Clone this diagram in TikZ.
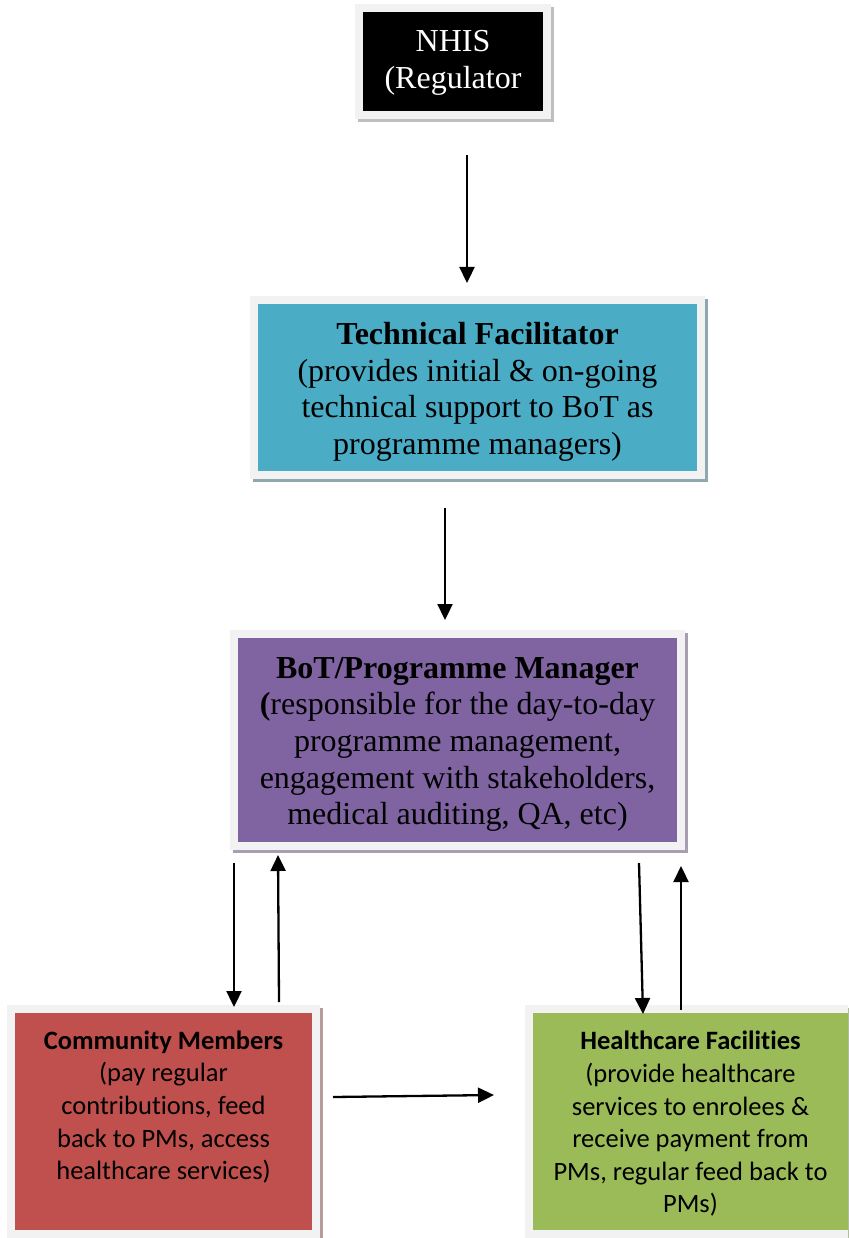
\documentclass[tikz,border=0pt]{standalone}
\usepackage{fontspec}
\setmainfont{Liberation Serif}
\newfontfamily\calib[Ligatures=NoCommon]{Carlito}
\usetikzlibrary{arrows.meta,backgrounds,calc}
\definecolor{framec}{HTML}{F2F2F2}
\definecolor{tfc}{HTML}{4BACC6}
\definecolor{botc}{HTML}{8064A2}
\definecolor{cmc}{HTML}{C0504D}
\definecolor{hfc}{HTML}{9BBB59}
\definecolor{shNH}{HTML}{BEBEBE}
\definecolor{shTF}{HTML}{8FA7AE}
\definecolor{shBOT}{HTML}{A79EB2}
\definecolor{shCM}{HTML}{B89C9B}
\definecolor{shHF}{HTML}{A9B598}
\begin{document}
\begin{tikzpicture}[x=1pt,y=-1pt,
  box/.style={rectangle, draw=framec, line width=8pt, outer sep=0pt, inner sep=0pt},
  serif/.style={font=\fontsize{32}{36.6}\selectfont, align=center, inner sep=0pt},
  sans/.style={font=\calib\fontsize{26.5}{32.6}\selectfont, align=center, inner sep=0pt},
  arr/.style={line width=2.3pt, -{Triangle[width=15pt,length=16pt]}}]
\useasboundingbox (0,0) rectangle (848,1238);
\clip (0,0) rectangle (848,1238);

\node[box, fill=black, minimum width=188pt, minimum height=107pt] (nhis) at (453,61.5) {};
\node[serif, text=white] (nhistext) at ($(nhis.center)+(0,1.5)$) {NHIS\\(Regulator};
\node[box, fill=tfc, minimum width=447pt, minimum height=175pt] (tf) at (477.5,387.5) {};
\node[serif] (tftext) at ($(tf.center)+(0,4.5)$)
  {\textbf{Technical Facilitator}\\(provides initial \& on-going\\technical support to BoT as\\programme managers)};
\node[box, fill=botc, minimum width=447pt, minimum height=212pt] (bot) at (457.5,740) {};
\node[serif] (bottext) at ($(bot.center)+(0,4.5)$)
  {\textbf{BoT/Programme Manager}\\\textbf{(}responsible for the day-to-day\\programme management,\\engagement with stakeholders,\\medical auditing, QA, etc)};
\node[box, fill=cmc, minimum width=305pt, minimum height=225pt] (cm) at (163.5,1121.5) {};
\node[sans, anchor=north] (cmtext) at (163.5,1030.5) {\textbf{Community Members}\\(pay regular\\contributions, feed\\back to PMs, access\\healthcare services)};
\node[box, fill=hfc, minimum width=323pt, minimum height=225pt] (hf) at (690.5,1121.5) {};
\node[sans, anchor=north] (hftext) at (690.5,1031) {\textbf{Healthcare Facilities}\\(provide healthcare\\services to enrolees \&\\receive payment from\\PMs, regular feed back to\\PMs)};

\begin{scope}[on background layer]
  \fill[white] (0,0) rectangle (848,1238);
  \fill[shNH] ($(nhis.north west)+(-1,-1)$) rectangle ($(nhis.south east)+(7,7)$);
  \fill[shTF] ($(tf.north west)+(-1,-1)$) rectangle ($(tf.south east)+(7,7)$);
  \fill[shBOT] ($(bot.north west)+(-1,-1)$) rectangle ($(bot.south east)+(7,7)$);
  \fill[shCM] ($(cm.north west)+(-1,-1)$) rectangle ($(cm.south east)+(7,7)$);
  \fill[shHF] ($(hf.north west)+(-1,-1)$) rectangle ($(hf.south east)+(7,7)$);
\end{scope}

\draw[arr] ($(nhis.south)+(14,40)$) -- ($(tf.north)+(-10.5,-17)$);
\draw[arr] ($(tf.south)+(-32.5,33)$) -- ($(bot.north)+(-12.5,-14)$);
\draw[arr] ($(bot.south west)+(0,17)$) -- ($(cm.north)+(70.5,-2)$);
\draw[arr] ($(cm.north)+(115.5,-7)$) -- ($(bot.south west)+(44,9)$);
\draw[arr] ($(bot.south east)+(-42,17)$) -- ($(hf.north)+(-47.5,5)$);
\draw[arr] ($(hf.north)+(-9.5,1)$) -- ($(bot.south east)+(0,20)$);
\draw[arr] ($(cm.east)+(17,-24.5)$) -- ($(hf.west)+(-35,-26.5)$);
\end{tikzpicture}
\end{document}
